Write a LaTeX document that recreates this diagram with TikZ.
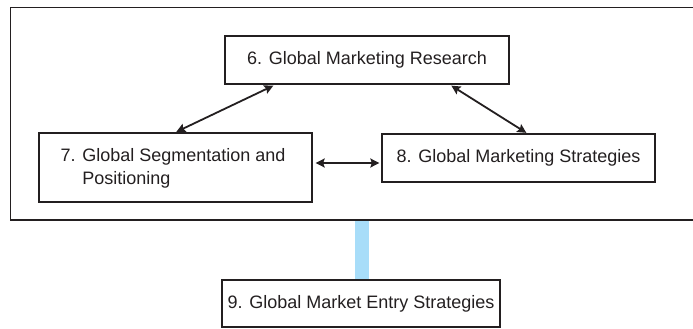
\documentclass[tikz,border=0pt]{standalone}
\usepackage{fontspec}
\setmainfont{Liberation Sans}
\usetikzlibrary{arrows.meta,calc}
\definecolor{barblue}{RGB}{168,221,249}
\definecolor{ink}{RGB}{35,31,32}
\tikzset{
  box/.style={draw=ink, line width=1.3pt, minimum width=#1, inner sep=0pt, font=\fontsize{18}{22}\selectfont, text=ink},
  arr/.style={{Stealth[length=9pt,width=9pt,inset=1.5pt]}-{Stealth[length=9pt,width=9pt,inset=1.5pt]}, line width=1.8pt, draw=ink},
  bar/.style={draw=barblue, line width=14pt},
}
\begin{document}
\begin{tikzpicture}[x=1pt,y=-1pt]
\useasboundingbox (0,0) rectangle (693,329);
% outer frame
\draw[draw=ink, line width=1.6pt] (700,7.5) -- (10.5,7.5) -- (10.5,220) -- (700,220);
\coordinate (frameb) at (362,220.8);
\node[box=284pt, minimum height=48pt] (n6) at (367,60) {6. Global Marketing Research};
\node[box=273pt, minimum height=69pt] (n7) at (175.5,167.5) {};
\node[anchor=north west, inner sep=0pt, font=\fontsize{18}{23}\selectfont, text=ink, align=left] (t7) at (60.5,148) {7. Global Segmentation and\\\phantom{7. }Positioning};
\node[box=273pt, minimum height=48pt] (n8) at (518.5,158) {8. Global Marketing Strategies};
\node[box=278pt, minimum height=47pt] (n9) at (361,303.5) {9. Global Market Entry Strategies};
\draw[bar] (frameb) -- (frameb |- n9.north);
\draw[arr] ($(n6.south west)+(49,1)$) -- ($(n7.north west)+(138,-0.5)$);
\draw[arr] ($(n6.south west)+(227,1)$) -- ($(n8.north west)+(145,-0.5)$);
\draw[arr] ($(n7.east)+(3,-4.5)$) -- ($(n8.west)+(-2,5)$);
\end{tikzpicture}
\end{document}
